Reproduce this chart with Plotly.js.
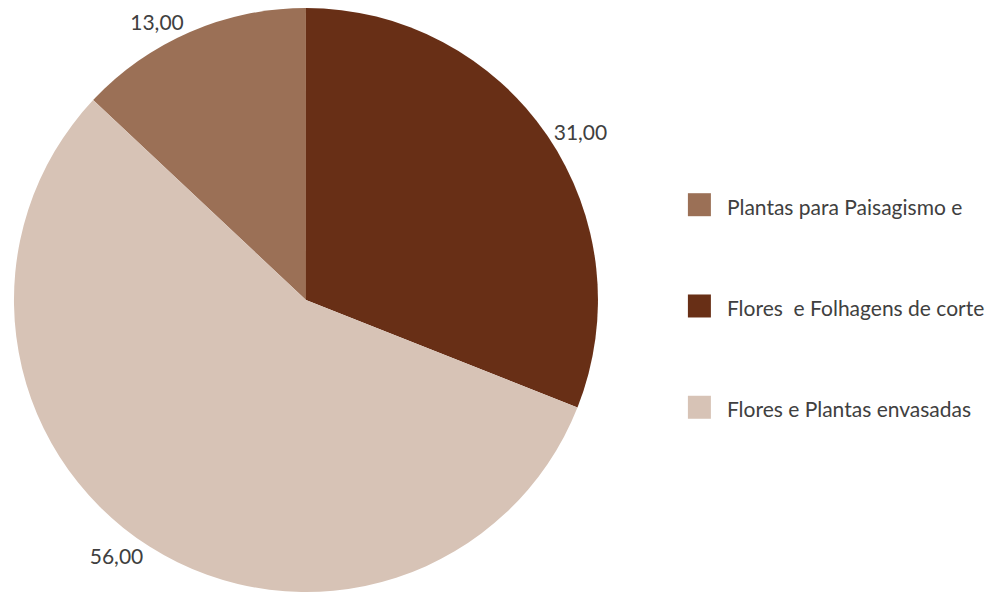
<!DOCTYPE html>
<html>
<head>
<meta charset="utf-8">
<script src="https://cdn.plot.ly/plotly-3.0.1.min.js"></script>
<style>
  html, body { margin: 0; padding: 0; background: #fff; }
  #chart { width: 991px; height: 592px; }
</style>
</head>
<body>
<div id="chart"></div>
<script>
// Data
var categories = ['Plantas para Paisagismo e', 'Flores\u00a0 e Folhagens de corte', 'Flores e Plantas envasadas'];
var values = [13, 31, 56];
var colors = ['#9B7056', '#682F16', '#D7C3B6'];

var total = values.reduce(function (a, b) { return a + b; }, 0);
// first slice ends at 12 o'clock, slices clockwise
var rotation = -values[0] / total * 360;

// padded legend labels (blank lines above/below for spacing)
var legendLabels = categories.map(function (c) {
  return '\u00a0<br><span style="font-size:21px">' + c + '</span><br>\u00a0';
});

var trace = {
  type: 'pie',
  labels: legendLabels,
  values: values,
  sort: false,
  direction: 'clockwise',
  rotation: rotation,
  marker: { colors: colors, line: { width: 0 } },
  texttemplate: '%{value:.2f}',
  textposition: 'outside',
  outsidetextfont: { family: 'Lato, sans-serif', size: 21, color: '#404040' },
  hoverinfo: 'none',
  domain: { x: [0.0136, 0.6039], y: [0, 0.9865] }
};

var layout = {
  width: 991,
  height: 592,
  margin: { l: 0, r: 0, t: 0, b: 0 },
  paper_bgcolor: '#ffffff',
  separators: ',.',
  showlegend: true,
  font: { family: 'Lato, sans-serif', color: '#404040' },
  legend: {
    x: 0.678, xanchor: 'left',
    y: 0.483, yanchor: 'middle',
    itemwidth: 45,
    font: { family: 'Lato, sans-serif', size: 25.2, color: '#404040' },
    bgcolor: 'rgba(0,0,0,0)',
    valign: 'middle'
  }
};

Plotly.newPlot('chart', [trace], layout, { displayModeBar: false, staticPlot: true }).then(function () {
  document.querySelectorAll('.legendpie').forEach(function (p) {
    p.setAttribute('d', 'M11.5,11.5H-11.5V-11.5H11.5Z');
  });
});
</script>
</body>
</html>
